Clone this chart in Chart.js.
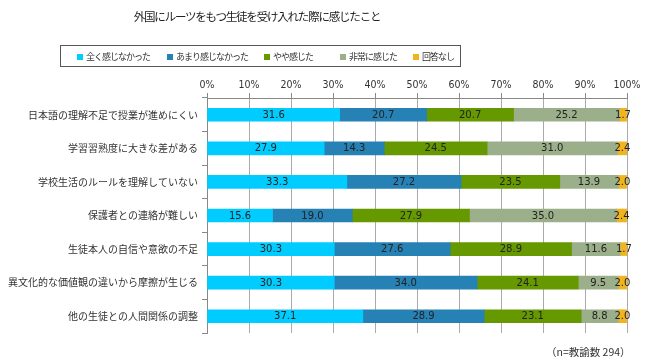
<!DOCTYPE html>
<html>
<head>
<meta charset="utf-8">
<script src="https://cdn.jsdelivr.net/npm/chart.js@4.4.0/dist/chart.umd.min.js"></script>
<style>
  body { margin: 0; background: #fff; font-family: "Noto Sans CJK JP", sans-serif; }
  #wrap { position: relative; width: 650px; height: 363px; }
  #title { position: absolute; left: 0; width: 514px; top: 8px; text-align: center; font-size: 11.5px; letter-spacing: -1.2px; color: #222; }
  #legend { position: absolute; left: 60px; top: 45px; width: 399px; height: 20px; border: 1px solid #555;
            display: flex; align-items: center; font-size: 9px; letter-spacing: -1px; color: #333; }
  #legend span.item { position: absolute; white-space: nowrap; }
  #legend i { display: inline-block; width: 6px; height: 6px; margin-right: 3px; vertical-align: 0px; }
  #note { position: absolute; left: 546px; top: 344px; font-size: 10.5px; color: #333; }
  canvas { position: absolute; left: 0; top: 0; }
</style>
</head>
<body>
<div id="wrap">
  <canvas id="chart" width="650" height="363"></canvas>
  <div id="title">外国にルーツをもつ生徒を受け入れた際に感じたこと</div>
  <div id="legend"></div>
  <div id="note">（n=教諭数 294）</div>
</div>
<script>
const categories = [
  "日本語の理解不足で授業が進めにくい",
  "学習習熟度に大きな差がある",
  "学校生活のルールを理解していない",
  "保護者との連絡が難しい",
  "生徒本人の自信や意欲の不足",
  "異文化的な価値観の違いから摩擦が生じる",
  "他の生徒との人間関係の調整"
];
const seriesNames = ["全く感じなかった", "あまり感じなかった", "やや感じた", "非常に感じた", "回答なし"];
const notAtAll   = [31.6, 27.9, 33.3, 15.6, 30.3, 30.3, 37.1];
const notMuch    = [20.7, 14.3, 27.2, 19.0, 27.6, 34.0, 28.9];
const somewhat   = [20.7, 24.5, 23.5, 27.9, 28.9, 24.1, 23.1];
const veryMuch   = [25.2, 31.0, 13.9, 35.0, 11.6,  9.5,  8.8];
const noAnswer   = [ 1.7,  2.4,  2.0,  2.4,  1.7,  2.0,  2.0];
const colors = ["#00CCFF", "#2681B5", "#669900", "#9BB08A", "#F0B41E"];
const legendX = [16, 106, 203, 279, 352];

const allSeries = [notAtAll, notMuch, somewhat, veryMuch, noAnswer];

// legend in html
const legend = document.getElementById("legend");
seriesNames.forEach((n, i) => {
  const s = document.createElement("span");
  s.className = "item";
  s.style.left = legendX[i] + "px";
  s.innerHTML = `<i style="background:${colors[i]}"></i>${n}`;
  legend.appendChild(s);
});

// draws the value labels in the middle of each segment
const valueLabels = {
  id: "valueLabels",
  afterDatasetsDraw(chart) {
    const ctx = chart.ctx;
    ctx.save();
    ctx.font = "10px 'DejaVu Sans', sans-serif";
    ctx.fillStyle = "#222";
    ctx.textAlign = "center";
    ctx.textBaseline = "middle";
    chart.data.datasets.forEach((ds, i) => {
      chart.getDatasetMeta(i).data.forEach((bar, j) => {
        const x = (bar.x + bar.base) / 2;
        ctx.fillText(ds.data[j].toFixed(1), x, bar.y + 0.5);
      });
    });
    ctx.restore();
  }
};

const ctx = document.getElementById("chart").getContext("2d");
const chart = new Chart(ctx, {
  type: "bar",
  data: {
    labels: categories,
    datasets: allSeries.map((d, i) => ({
      label: seriesNames[i],
      data: d,
      backgroundColor: colors[i],
      borderWidth: 0,
      barThickness: 13
    }))
  },
  options: {
    indexAxis: "y",
    responsive: false,
    animation: false,
    layout: { padding: { top: 68, bottom: 30, right: 23, left: 0 } },
    plugins: { legend: { display: false }, title: { display: false }, tooltip: { enabled: false } },
    scales: {
      x: {
        stacked: true,
        position: "top",
        min: 0, max: 100,
        ticks: { stepSize: 10, callback: v => v + "%", color: "#333", font: { size: 10.5, family: "'DejaVu Sans Condensed', sans-serif" }, padding: 1 },
        grid: { color: "#aaa", tickLength: 5, tickColor: "#888" },
        border: { color: "#888" },
        afterFit(scale) { scale.height = 30; }
      },
      y: {
        stacked: true,
        ticks: { color: "#333", font: { size: 10, family: "'Noto Sans CJK JP', sans-serif" }, padding: 4 },
        grid: { drawOnChartArea: false, tickLength: 5, tickColor: "#888", offset: true },
        border: { color: "#888" },
        afterFit(scale) { scale.width = 207; }
      }
    }
  },
  plugins: [valueLabels]
});
</script>
</body>
</html>
